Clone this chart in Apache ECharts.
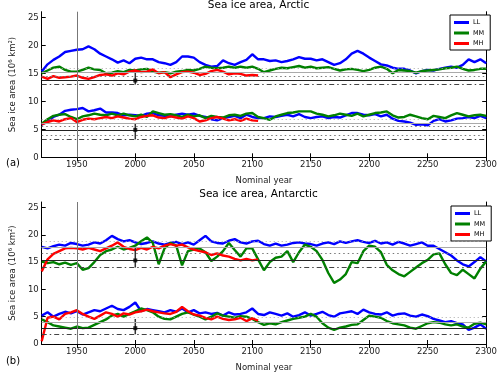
<!DOCTYPE html>
<html>
<head>
<meta charset="utf-8">
<script src="https://cdn.jsdelivr.net/npm/echarts@6/dist/echarts.min.js"></script>
<style>
  html, body { margin: 0; padding: 0; background: #fff; }
  #chart { width: 500px; height: 373px; }
</style>
</head>
<body>
<div id="chart"></div>
<script>
// model years 1920..2300 every 5 years; MH runs stop at 2105
const years = Array.from({ length: 77 }, (_, i) => 1920 + i * 5)
const xTicks = [1950, 2000, 2050, 2100, 2150, 2200, 2250, 2300]
const yTicks = [0, 5, 10, 15, 20, 25]
const modelNames = ['LL', 'MM', 'MH']

// Arctic, annual maximum (10^6 km^2)
const arcMaxLL = [
  15.3, 16.6, 17.4, 18.0, 18.8, 19.0, 19.2, 19.3, 19.8, 19.3,
  18.5, 18.0, 17.5, 16.9, 17.3, 16.8, 17.6, 17.8, 17.5, 17.5,
  17.0, 16.8, 16.5, 17.0, 18.0, 18.0, 17.8, 17.0, 16.5, 16.2,
  16.3, 17.3, 16.8, 16.5, 17.0, 17.4, 18.4, 17.5, 17.5, 17.2,
  17.3, 17.0, 17.2, 17.5, 17.9, 17.6, 17.6, 17.3, 17.5, 17.0,
  16.5, 16.8, 17.5, 18.5, 19.0, 18.5, 17.8, 17.2, 16.6, 16.4,
  16.0, 15.8, 15.8, 15.5, 15.0, 15.4, 15.6, 15.5, 15.8, 16.0,
  16.2, 16.0, 16.5, 17.5, 17.0, 17.5, 16.8
]
const arcMaxMM = [
  15.0, 15.5, 16.0, 16.2, 15.6, 15.3, 15.3, 15.6, 16.0, 15.7,
  15.6, 15.0, 15.1, 15.4, 15.2, 15.6, 15.5, 15.7, 15.8, 15.3,
  15.1, 15.2, 15.0, 15.3, 15.4, 15.6, 15.5, 15.8, 16.2, 16.0,
  15.9, 16.0, 16.2, 16.0, 16.2, 16.0, 16.2, 15.8, 15.2, 15.5,
  15.8, 16.0, 15.9, 16.1, 16.3, 16.0, 16.2, 15.9, 16.0, 16.1,
  15.8, 15.5, 15.7, 15.8, 15.6, 15.4, 15.6, 16.0, 16.2, 15.8,
  15.0, 15.6, 15.5, 15.4, 15.1, 15.4, 15.5, 15.6, 15.7, 15.9,
  16.0, 16.2, 15.8, 15.5, 15.6, 15.8, 15.8
]
const arcMaxMH = [
  14.4, 14.0, 14.5, 14.2, 14.3, 14.4, 14.6, 14.2, 14.0, 14.3,
  14.7, 14.8, 14.6, 15.0, 14.8, 15.3, 15.5, 15.2, 15.3, 15.7,
  15.0, 15.2, 14.3, 14.8, 15.2, 15.3, 15.1, 14.7, 14.9, 15.4,
  15.6, 15.3, 14.8, 15.0, 14.9, 14.6, 14.7, 14.6
]
// Arctic, annual minimum
const arcMinLL = [
  5.8, 6.5, 7.2, 7.6, 8.3, 8.5, 8.6, 8.8, 8.2, 8.4,
  8.7, 8.0, 8.0, 7.9, 7.5, 7.6, 7.5, 7.4, 7.8, 7.9,
  7.5, 7.4, 7.3, 7.6, 7.8, 7.6, 7.8, 7.4, 7.2, 6.8,
  6.6, 7.0, 7.2, 7.4, 7.0, 7.6, 7.2, 7.0, 7.0, 7.3,
  7.2, 7.4, 7.6, 7.3, 7.7, 7.2, 7.0, 7.2, 7.3, 7.0,
  7.2, 7.1, 7.5, 7.9, 7.9, 7.6, 7.5, 7.7, 7.3, 7.6,
  6.9, 6.5, 6.4, 6.2, 5.8, 5.9, 5.7, 6.5, 6.8, 6.4,
  6.6, 6.9, 7.0, 7.2, 7.0, 7.4, 7.0
]
const arcMinMM = [
  6.0, 6.8, 7.4, 7.6, 7.7, 7.2, 6.8, 7.3, 7.5, 7.8,
  7.6, 7.5, 7.8, 7.5, 7.8, 7.5, 7.3, 7.6, 7.2, 8.2,
  7.9, 7.6, 7.7, 7.5, 7.2, 7.6, 7.3, 7.5, 7.0, 7.4,
  7.2, 7.1, 7.5, 7.6, 7.4, 7.8, 7.9, 7.2, 7.0, 6.7,
  7.3, 7.6, 7.9, 8.0, 8.2, 8.2, 8.2, 7.8, 7.6, 7.3,
  7.5, 7.8, 7.6, 7.4, 7.8, 7.3, 7.6, 7.9, 8.0, 8.2,
  7.5, 7.1, 7.2, 7.6, 7.3, 7.0, 6.8, 7.4, 7.2, 7.0,
  7.5, 7.9, 7.6, 7.3, 7.5, 7.6, 7.4
]
const arcMinMH = [
  5.9, 6.3, 6.6, 6.4, 6.8, 7.0, 6.3, 6.7, 6.9, 6.8,
  7.0, 7.2, 7.0, 7.3, 7.1, 6.9, 6.8, 7.2, 7.4, 7.5,
  7.1, 7.0, 7.3, 7.1, 6.9, 7.3, 7.0, 6.4, 6.6, 7.0,
  7.2, 6.9, 6.6, 6.8, 6.5, 6.9, 6.6, 6.5
]

// Antarctic, annual maximum
const antMaxLL = [
  17.8, 17.5, 17.9, 18.2, 18.0, 18.5, 18.3, 18.0, 18.2, 18.6,
  18.4, 19.0, 19.8, 19.2, 18.8, 19.0, 18.6, 18.3, 18.5, 18.8,
  18.4, 18.2, 18.5, 18.7, 18.3, 18.6, 18.2, 19.0, 19.8, 18.8,
  18.5, 18.4, 18.9, 19.2, 18.6, 18.4, 18.8, 18.9, 18.3, 18.0,
  18.4, 18.0, 18.2, 18.5, 18.6, 18.4, 18.3, 18.0, 18.4, 18.6,
  18.3, 18.8, 18.5, 18.8, 19.0, 18.7, 18.5, 18.9, 18.4, 18.6,
  18.2, 18.7, 18.4, 18.0, 18.3, 18.6, 18.0, 18.0, 17.4, 16.8,
  16.2, 15.3, 14.6, 14.2, 15.0, 15.9, 15.1
]
const antMaxMM = [
  15.1, 14.8, 15.0, 14.6, 14.9, 14.5, 14.8, 13.6, 13.9, 15.0,
  16.3, 17.0, 17.3, 17.8, 17.3, 17.6, 18.0, 18.8, 19.5, 18.5,
  14.6, 17.5, 18.5, 18.0, 14.4, 17.0, 17.3, 17.5, 16.8, 15.2,
  16.0, 17.0, 18.5, 17.2, 16.0, 17.5, 17.5, 15.5, 13.5, 15.0,
  15.8, 16.0, 17.0, 15.0, 16.8, 18.2, 17.8, 17.0, 15.4, 13.0,
  11.2, 11.8, 12.8, 15.0, 14.8, 17.0, 18.0, 17.8, 16.8, 14.5,
  13.5, 12.8, 12.4, 13.2, 14.0, 14.8, 15.4, 16.4, 16.6, 14.6,
  13.0, 12.6, 13.6, 12.8, 12.0, 13.8, 15.1
]
const antMaxMH = [
  13.3, 15.5, 16.5, 17.0, 17.5, 17.6, 17.5, 17.3, 17.6, 17.3,
  17.0, 17.5, 18.0, 18.6, 17.8, 17.4, 17.2, 17.6, 17.3, 17.8,
  17.5, 18.0, 18.3, 18.0, 18.2, 17.7, 17.3, 17.0, 16.8, 16.3,
  16.6, 16.2, 16.0, 15.6, 15.3, 15.6, 15.3, 15.5
]
// Antarctic, annual minimum
const antMinLL = [
  5.2, 5.8, 5.0, 5.5, 5.9, 5.6, 6.0, 5.4, 5.8, 6.2,
  6.0, 6.5, 7.0, 6.4, 6.2, 6.8, 7.6, 6.0, 6.4, 6.2,
  6.0, 5.8, 6.2, 5.9, 6.5, 5.8, 6.2, 5.6, 5.8, 5.5,
  5.7, 5.2, 5.8, 5.4, 5.5, 5.8, 6.5, 5.5, 5.3, 5.8,
  5.5, 5.2, 5.6, 5.0, 5.3, 5.8, 5.2, 5.5, 5.9, 5.3,
  5.0, 5.6, 5.8, 6.0, 5.5, 6.3, 5.8, 5.5, 5.4, 5.8,
  5.2, 5.5, 5.6, 5.2, 5.0, 5.4, 5.1, 4.6, 4.3, 4.0,
  4.2, 3.8, 3.6, 2.6, 3.0, 3.6, 2.8
]
const antMinMM = [
  4.5, 4.0, 3.4, 3.2, 3.0, 2.8, 3.2, 2.9, 3.0, 3.5,
  4.0, 4.5, 5.2, 5.5, 5.0, 5.5, 6.0, 6.5, 6.2, 5.8,
  5.0, 4.6, 4.5, 5.0, 5.5, 5.8, 5.4, 5.0, 4.5, 5.0,
  5.6, 5.2, 5.0, 4.8, 5.1, 5.0, 4.6, 4.0, 3.5, 3.8,
  3.6, 4.0, 4.3, 4.6, 4.8, 5.0, 5.5, 5.0, 3.8, 3.0,
  2.6, 3.0, 3.2, 3.5, 3.6, 4.4, 5.2, 5.0, 4.8, 4.2,
  3.8, 3.6, 3.4, 3.0, 2.8, 3.3, 3.8, 4.0, 3.9, 3.6,
  3.4, 3.6, 3.2, 3.0, 3.7, 3.9, 3.6
]
const antMinMH = [
  0.5, 4.8, 5.0, 4.5, 5.5, 5.8, 6.2, 5.5, 5.0, 4.6,
  5.2, 5.8, 5.5, 5.0, 5.6, 5.4, 5.8, 6.0, 6.3, 6.0,
  5.8, 5.6, 5.5, 5.9, 6.8, 6.0, 5.4, 5.2, 4.8, 4.5,
  5.0, 4.6, 4.4, 4.5, 4.8, 4.2, 4.7, 4.3
]

// observations around year 2000: [mean, low, high]
const obsYear = 2000
const arcObsMax = [13.7, 13.0, 15.1]
const arcObsMin = [4.9, 3.2, 6.0]
const antObsMax = [15.3, 14.0, 17.75]
const antObsMin = [2.9, 1.8, 4.6]

// horizontal reference levels: [value, kind]
const arcRefs = [
  [15.9, 'grayDot'], [15.2, 'gray'], [14.5, 'dot'], [13.7, 'black'], [13.0, 'dashDot'],
  [6.8, 'grayDot'], [6.1, 'gray'], [5.5, 'dot'], [4.9, 'black'], [3.9, 'dot'], [3.2, 'dashDot']
]
const antRefs = [
  [18.9, 'grayDot'], [17.75, 'gray'], [16.55, 'dot'], [15.25, 'black'], [14.0, 'dashDot'],
  [4.95, 'grayDot'], [4.05, 'gray'], [2.85, 'black'], [1.8, 'dashDot']
]

const colors = { LL: '#0000ff', MM: '#008000', MH: '#ff0000' }
const font = 'DejaVu Sans'

const refStyles = {
  gray: { color: '#aaaaaa', width: 1, type: 'solid' },
  grayDot: { color: '#aaaaaa', width: 1, type: [1, 3] },
  dot: { color: '#777777', width: 1, type: [1.5, 3] },
  black: { color: '#222222', width: 1, type: 'solid' },
  dashDot: { color: '#444444', width: 1, type: [5, 3, 1.5, 3] }
}

const toPairs = arr => arr.map((v, i) => [years[i], v])

const makeGrid = (top) => ({ left: 27, right: 10, top: top, height: 145.6 })

const tickStyle = { inside: true, length: 4, lineStyle: { color: '#000' } }
const plain = v => String(v)

const makeXAxes = (g) => ([
  {
    type: 'value', gridIndex: g, min: 1920, max: 2300, position: 'bottom',
    name: 'Nominal year', nameLocation: 'middle', nameGap: 19,
    nameTextStyle: { fontFamily: font, fontSize: 8.5, color: '#222' },
    axisLine: { lineStyle: { color: '#000', width: 1 } },
    axisTick: Object.assign({ customValues: xTicks }, tickStyle),
    axisLabel: { customValues: xTicks, formatter: plain, fontFamily: font, fontSize: 8.5, color: '#222', margin: 3 },
    splitLine: { show: false }
  },
  {
    type: 'value', gridIndex: g, min: 1920, max: 2300, position: 'top',
    axisLine: { lineStyle: { color: '#000', width: 1 } },
    axisTick: Object.assign({ customValues: xTicks }, tickStyle),
    axisLabel: { show: false },
    splitLine: { show: false }
  }
])

const makeYAxes = (g) => ([
  {
    type: 'value', gridIndex: g, min: 0, max: 26, position: 'left',
    name: 'Sea ice area (10\u2076 km\u00b2)', nameLocation: 'middle', nameGap: 19,
    nameTextStyle: { fontFamily: font, fontSize: 8.5, color: '#222' },
    axisLine: { lineStyle: { color: '#000', width: 1 } },
    axisTick: Object.assign({ customValues: yTicks }, tickStyle),
    axisLabel: { customValues: yTicks, formatter: plain, fontFamily: font, fontSize: 8.5, color: '#222', margin: 3 },
    splitLine: { show: false }
  },
  {
    type: 'value', gridIndex: g, min: 0, max: 26, position: 'right',
    axisLine: { lineStyle: { color: '#000', width: 1 } },
    axisTick: Object.assign({ customValues: yTicks }, tickStyle),
    axisLabel: { show: false },
    splitLine: { show: false }
  }
])

const modelSeries = (name, data, xi, yi) => ({
  name: name,
  type: 'line',
  xAxisIndex: xi,
  yAxisIndex: yi,
  data: toPairs(data),
  symbol: 'none',
  z: 3,
  lineStyle: { color: colors[name], width: 2.4 },
  itemStyle: { color: colors[name] }
})

const refSeries = (refs, xi, yi) => ({
  name: 'ref',
  type: 'line',
  xAxisIndex: xi,
  yAxisIndex: yi,
  data: [],
  z: 1,
  markLine: {
    silent: true,
    symbol: ['none', 'none'],
    label: { show: false },
    data: refs.map(r => ({ yAxis: r[0], lineStyle: refStyles[r[1]] }))
      .concat([{ xAxis: 1950, lineStyle: { color: '#777', width: 1, type: 'solid' } }])
  }
})

const obsSeries = (obs, xi, yi) => ([
  {
    name: 'obsbar', type: 'line', xAxisIndex: xi, yAxisIndex: yi, z: 4,
    data: [[obsYear, obs[1]], [obsYear, obs[2]]],
    symbol: 'none', lineStyle: { color: '#333', width: 1.5 }
  },
  {
    name: 'obsmean', type: 'scatter', xAxisIndex: xi, yAxisIndex: yi, z: 5,
    data: [[obsYear, obs[0]]],
    symbol: 'rect', symbolSize: 4, itemStyle: { color: '#000' }
  }
])

const legendCfg = (left, top) => ({
  data: modelNames,
  orient: 'vertical',
  left: left, top: top,
  icon: 'rect',
  itemWidth: 15, itemHeight: 3, itemGap: 3.5,
  padding: [4, 6, 3, 4],
  borderColor: '#000', borderWidth: 1,
  backgroundColor: '#fff',
  textStyle: { fontFamily: font, fontSize: 6.5, color: '#000', padding: [0, 0, 0, -1] },
  selectedMode: false
})

const panelText = (txt, x, y, size) => ({
  type: 'text', x: x, y: y,
  style: { text: txt, fontFamily: font, fontSize: size, fill: '#000', textAlign: 'center', textVerticalAlign: 'middle' }
})

const chart = echarts.init(document.getElementById('chart'), null, { renderer: 'canvas' })

chart.setOption({
  animation: false,
  backgroundColor: '#fff',
  grid: [makeGrid(11.7), makeGrid(202)],
  xAxis: makeXAxes(0).concat(makeXAxes(1)),
  yAxis: makeYAxes(0).concat(makeYAxes(1)),
  legend: [legendCfg(450, 15), legendCfg(451, 206)],
  graphic: [
    panelText('Sea ice area, Arctic', 258.5, 5, 10.5),
    panelText('Sea ice area, Antarctic', 258.5, 194.5, 10.5),
    panelText('(a)', 13, 163, 10),
    panelText('(b)', 13, 361, 10)
  ],
  series: [
    refSeries(arcRefs, 0, 0),
    modelSeries('LL', arcMaxLL, 0, 0),
    modelSeries('LL', arcMinLL, 0, 0),
    modelSeries('MM', arcMaxMM, 0, 0),
    modelSeries('MM', arcMinMM, 0, 0),
    modelSeries('MH', arcMaxMH, 0, 0),
    modelSeries('MH', arcMinMH, 0, 0),
    ...obsSeries(arcObsMax, 0, 0),
    ...obsSeries(arcObsMin, 0, 0),

    refSeries(antRefs, 2, 2),
    modelSeries('LL', antMaxLL, 2, 2),
    modelSeries('LL', antMinLL, 2, 2),
    modelSeries('MM', antMaxMM, 2, 2),
    modelSeries('MM', antMinMM, 2, 2),
    modelSeries('MH', antMaxMH, 2, 2),
    modelSeries('MH', antMinMH, 2, 2),
    ...obsSeries(antObsMax, 2, 2),
    ...obsSeries(antObsMin, 2, 2)
  ]
})
</script>
</body>
</html>
